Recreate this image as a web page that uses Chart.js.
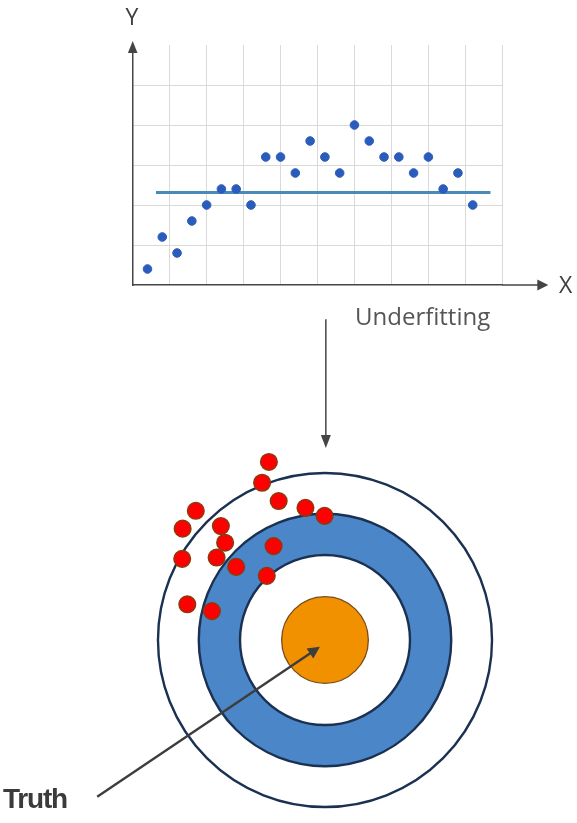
<!DOCTYPE html>
<html>
<head>
<meta charset="utf-8">
<script src="https://cdn.jsdelivr.net/npm/chart.js@4.4.1/dist/chart.umd.min.js"></script>
<style>
  html, body { margin:0; padding:0; background:#fff; width:577px; height:823px; overflow:hidden; }
  canvas { position:absolute; left:0; }
  #fit-chart    { top:0; }
  #target-chart { top:300px; }
  .lbl { position:absolute; white-space:nowrap; line-height:1; }
  #lbl-y { left:132px; top:0px; transform:translateX(-50%); font:23px 'Open Sans', sans-serif; color:#404040; }
  #lbl-x { left:559px; top:268px; font:23px 'Open Sans', sans-serif; color:#404040; }
  #lbl-fit { left:355px; top:299px; font:24px 'Open Sans', sans-serif; color:#555; }
  #lbl-truth { left:3px; top:783px; font:bold 28px 'Liberation Sans', sans-serif; letter-spacing:-1.2px; color:#3b3b3b; }
</style>
</head>
<body>
<canvas id="fit-chart" width="577" height="300"></canvas>
<canvas id="target-chart" width="577" height="523"></canvas>
<div class="lbl" id="lbl-y">Y</div>
<div class="lbl" id="lbl-x">X</div>
<div class="lbl" id="lbl-fit">Underfitting</div>
<div class="lbl" id="lbl-truth">Truth</div>
<script>
'use strict';

// ── Top: sample points + flat fit ──
const fitX  = [0.4, 0.8, 1.2, 1.6, 2.0, 2.4, 2.8, 3.2, 3.6, 4.0, 4.4, 4.8,
               5.2, 5.6, 6.0, 6.4, 6.8, 7.2, 7.6, 8.0, 8.4, 8.8, 9.2];
const fitY  = [0.4, 1.2, 0.8, 1.6, 2.0, 2.4, 2.4, 2.0, 3.2, 3.2, 2.8, 3.6,
               3.2, 2.8, 4.0, 3.6, 3.2, 3.2, 2.8, 3.2, 2.4, 2.8, 2.0];
const lineX = [0.63, 9.68];
const lineY = [2.31, 2.31];
const xRange = [0, 10];
const yRange = [0, 6];

// ── Bottom: target rings + shots ──
const shotX = [-1.32, -1.48, -1.09, -0.46, -0.01, -3.04, -3.35, -2.45,
               -2.35, -3.36, -2.55, -2.09, -1.21, -1.37, -3.24, -2.66];
const shotY = [ 4.19,  3.70,  3.27,  3.11,  2.92,  3.04,  2.62,  2.68,
                2.29,  1.91,  1.94,  1.72,  2.21,  1.51,  0.84,  0.68];
const ringRadii  = [3.93, 2.97, 2.0, 1.02];
const ringFills  = ['#ffffff', '#4a86c8', '#ffffff', '#f29100'];
const ringStroke = ['#1b3152', '#1b3152', '#1b3152', '#7a4a18'];
const truthFrom  = [-5.36, -3.69];
const truthTo    = [-0.12, -0.16];
const dropFrom   = [0.02, 7.55];
const dropTo     = [0.02, 4.52];

const INK = '#454545';

function arrowHead(ctx, x1, y1, x2, y2, len, half) {
  const ang = Math.atan2(y2 - y1, x2 - x1);
  ctx.beginPath();
  ctx.moveTo(x2, y2);
  ctx.lineTo(x2 - len * Math.cos(ang) + half * Math.sin(ang), y2 - len * Math.sin(ang) - half * Math.cos(ang));
  ctx.lineTo(x2 - len * Math.cos(ang) - half * Math.sin(ang), y2 - len * Math.sin(ang) + half * Math.cos(ang));
  ctx.closePath();
  ctx.fill();
}

const axisArrows = {
  id: 'axisArrows',
  afterDraw(chart) {
    const { ctx, chartArea: a } = chart;
    ctx.save();
    ctx.strokeStyle = ctx.fillStyle = INK;
    ctx.lineWidth = 1.5;
    // x axis runs on past the grid
    ctx.beginPath();
    ctx.moveTo(a.right, a.bottom);
    ctx.lineTo(a.right + 38, a.bottom);
    ctx.stroke();
    arrowHead(ctx, a.left, a.bottom, a.right + 46, a.bottom, 11, 5.5);
    arrowHead(ctx, a.left, a.bottom, a.left, a.top - 4, 12, 4.8);
    ctx.restore();
  }
};

new Chart(document.getElementById('fit-chart'), {
  type: 'scatter',
  data: {
    datasets: [
      {
        type: 'line',
        data: lineX.map((x, i) => ({ x, y: lineY[i] })),
        borderColor: '#4a8ab8',
        borderWidth: 3,
        pointRadius: 0,
        order: 2,
      },
      {
        data: fitX.map((x, i) => ({ x, y: fitY[i] })),
        backgroundColor: '#2c5cbb',
        borderColor: '#2c5cbb',
        pointRadius: 4.3,
        order: 1,
      }
    ]
  },
  options: {
    responsive: false,
    animation: false,
    layout: { padding: { left: 132.7, right: 74.7, top: 45, bottom: 15 } },
    plugins: { legend: { display: false }, tooltip: { enabled: false } },
    scales: {
      x: {
        type: 'linear', min: xRange[0], max: xRange[1],
        ticks: { display: false, stepSize: 1 },
        grid: { color: c => c.tick.value === xRange[0] ? 'transparent' : '#d9d9d9', drawTicks: false },
        border: { color: INK, width: 1.5 },
        afterFit: s => { s.height = 0; },
      },
      y: {
        type: 'linear', min: yRange[0], max: yRange[1],
        ticks: { display: false, stepSize: 1 },
        grid: { color: c => (c.tick.value === yRange[0] || c.tick.value === yRange[1]) ? 'transparent' : '#d9d9d9', drawTicks: false },
        border: { color: INK, width: 1.5 },
        afterFit: s => { s.width = 0; },
      }
    }
  },
  plugins: [axisArrows]
});

const targetRings = {
  id: 'targetRings',
  beforeDatasetsDraw(chart) {
    const { ctx, scales: { x, y } } = chart;
    const cx = x.getPixelForValue(0), cy = y.getPixelForValue(0);
    ctx.save();
    ringRadii.forEach((r, i) => {
      const pr = x.getPixelForValue(r) - cx;
      ctx.beginPath();
      ctx.arc(cx, cy, pr, 0, Math.PI * 2);
      ctx.fillStyle = ringFills[i];
      ctx.fill();
      ctx.lineWidth = i === 3 ? 1.3 : 2.4;
      ctx.strokeStyle = ringStroke[i];
      ctx.stroke();
    });
    ctx.restore();
  },
  afterDatasetsDraw(chart) {
    const { ctx, scales: { x, y } } = chart;
    ctx.save();
    ctx.strokeStyle = ctx.fillStyle = '#3d3d3d';

    // Truth pointer
    let x1 = x.getPixelForValue(truthFrom[0]), y1 = y.getPixelForValue(truthFrom[1]);
    let x2 = x.getPixelForValue(truthTo[0]),   y2 = y.getPixelForValue(truthTo[1]);
    ctx.lineWidth = 2.4;
    ctx.beginPath();
    ctx.moveTo(x1, y1);
    ctx.lineTo(x2 - 8 * (x2 - x1) / Math.hypot(x2 - x1, y2 - y1), y2 - 8 * (y2 - y1) / Math.hypot(x2 - x1, y2 - y1));
    ctx.stroke();
    arrowHead(ctx, x1, y1, x2, y2, 12, 6);

    // drop arrow from the fit chart
    x1 = x.getPixelForValue(dropFrom[0]); y1 = y.getPixelForValue(dropFrom[1]);
    x2 = x.getPixelForValue(dropTo[0]);   y2 = y.getPixelForValue(dropTo[1]);
    ctx.strokeStyle = ctx.fillStyle = INK;
    ctx.lineWidth = 1.5;
    ctx.beginPath();
    ctx.moveTo(x1, y1);
    ctx.lineTo(x2, y2 - 10);
    ctx.stroke();
    arrowHead(ctx, x1, y1, x2, y2, 13, 5);
    ctx.restore();
  }
};

new Chart(document.getElementById('target-chart'), {
  type: 'scatter',
  data: {
    datasets: [{
      data: shotX.map((x, i) => ({ x, y: shotY[i] })),
      backgroundColor: '#ff0000',
      borderColor: '#8b3a0e',
      borderWidth: 1.5,
      pointRadius: 8.3,
      clip: false,
    }]
  },
  options: {
    responsive: false,
    animation: false,
    layout: { padding: { left: 70, right: 39.5, top: 21.25, bottom: 13 } },
    plugins: { legend: { display: false }, tooltip: { enabled: false } },
    scales: {
      x: { type: 'linear', display: false, min: -6, max: 5 },
      y: { type: 'linear', display: false, min: -4, max: 7.5 },
    }
  },
  plugins: [targetRings]
});
</script>
</body>
</html>
